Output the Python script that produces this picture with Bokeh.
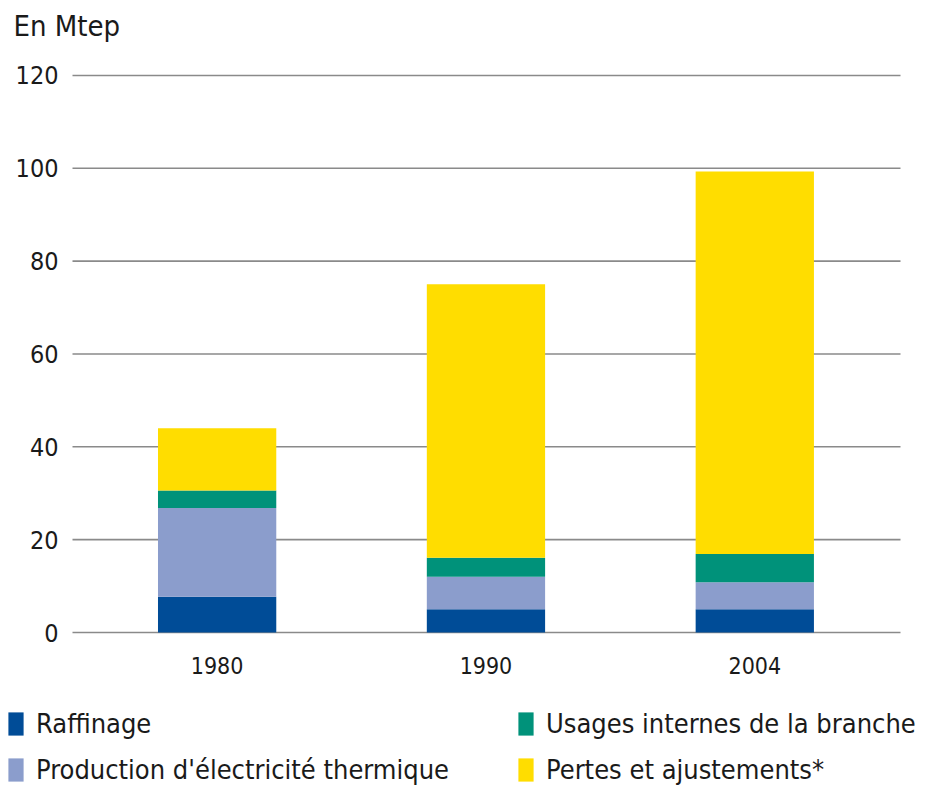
from bokeh.plotting import figure
from bokeh.models import (ColumnDataSource, Range1d, FixedTicker, Legend, LegendItem, Label)
from bokeh.embed import file_html
from bokeh.resources import INLINE

years = ["1980", "1990", "2004"]
raffinage = [7.7, 5.0, 5.0]
production = [19.1, 7.0, 5.8]
usages = [3.8, 4.1, 6.1]
pertes = [13.4, 58.9, 82.4]
series_names = ["Raffinage", "Production d'électricité thermique",
                "Usages internes de la branche", "Pertes et ajustements*"]
colors = ["#004C97", "#8B9DCC", "#00927A", "#FFDD00"]
y_ticks = [0, 20, 40, 60, 80, 100, 120]
unit_label = "En Mtep"

FONT = "DejaVu Sans Condensed"
TXT = "#1a1a1a"

# layout (pixels): canvas size and plot-area margins inside it
W, H = 929, 785
LEFT, RIGHT, TOP, BOTTOM = 72, 900, 70.3, 633.4
XA = (-0.538, 2.542)   # data extent of the plot area along x
YA = (-0.3, 121.0)     # data extent of the plot area along y
kx = (XA[1] - XA[0]) / (RIGHT - LEFT)
ky = (YA[1] - YA[0]) / (BOTTOM - TOP)
x_range = Range1d(XA[0] - LEFT * kx, XA[1] + (W - RIGHT) * kx)
y_range = Range1d(YA[0] - (H - BOTTOM) * ky, YA[1] + TOP * ky)

xs = list(range(len(years)))
source = ColumnDataSource(dict(x=xs, r=raffinage, p=production, u=usages, l=pertes))

p = figure(width=W, height=H, output_backend="svg", toolbar_location=None,
           x_range=x_range, y_range=y_range,
           min_border=0, min_border_left=0, min_border_right=0,
           min_border_top=0, min_border_bottom=0)
p.outline_line_color = None
p.background_fill_color = "white"
p.grid.visible = False

# horizontal grid lines over the plot area only
p.segment(x0=XA[0], x1=XA[1], y0=y_ticks, y1=y_ticks, line_color="#8a8a8a", line_width=1.6)

rends = p.vbar_stack(["r", "p", "u", "l"], x="x", width=0.44, color=colors,
                     line_color=None, source=source)

p.xaxis.ticker = FixedTicker(ticks=xs)
p.xaxis.major_label_overrides = {i: y for i, y in enumerate(years)}
p.yaxis.ticker = FixedTicker(ticks=y_ticks)
p.xaxis.fixed_location = YA[0]
p.yaxis.fixed_location = XA[0]
for ax in (p.xaxis[0], p.yaxis[0]):
    ax.axis_line_color = None
    ax.major_tick_line_color = None
    ax.minor_tick_line_color = None
    ax.major_label_text_font = FONT
    ax.major_label_text_color = TXT
p.xaxis.major_label_text_font_size = "23px"
p.yaxis.major_label_text_font_size = "25px"
p.yaxis.major_label_standoff = 8
p.xaxis.major_label_standoff = 17

p.add_layout(Label(x=13, y=H - 25, x_units="screen", y_units="screen", text=unit_label,
                   text_font=FONT, text_font_size="29px", text_color=TXT,
                   text_baseline="alphabetic", text_align="left"))

def mk_legend(idx, loc_x, standoff):
    return Legend(items=[LegendItem(label=series_names[i], renderers=[rends[i]]) for i in idx],
                  location=(loc_x, 0), orientation="vertical",
                  glyph_width=19, glyph_height=29, label_height=23, spacing=15,
                  label_standoff=standoff, padding=0, margin=0,
                  border_line_color=None, background_fill_alpha=0,
                  label_text_font=FONT, label_text_font_size="27px", label_text_color=TXT)

p.add_layout(mk_legend([0, 1], 6, 11), "center")
p.add_layout(mk_legend([2, 3], 516, 11), "center")

open("out.html", "w").write(file_html(p, INLINE))
